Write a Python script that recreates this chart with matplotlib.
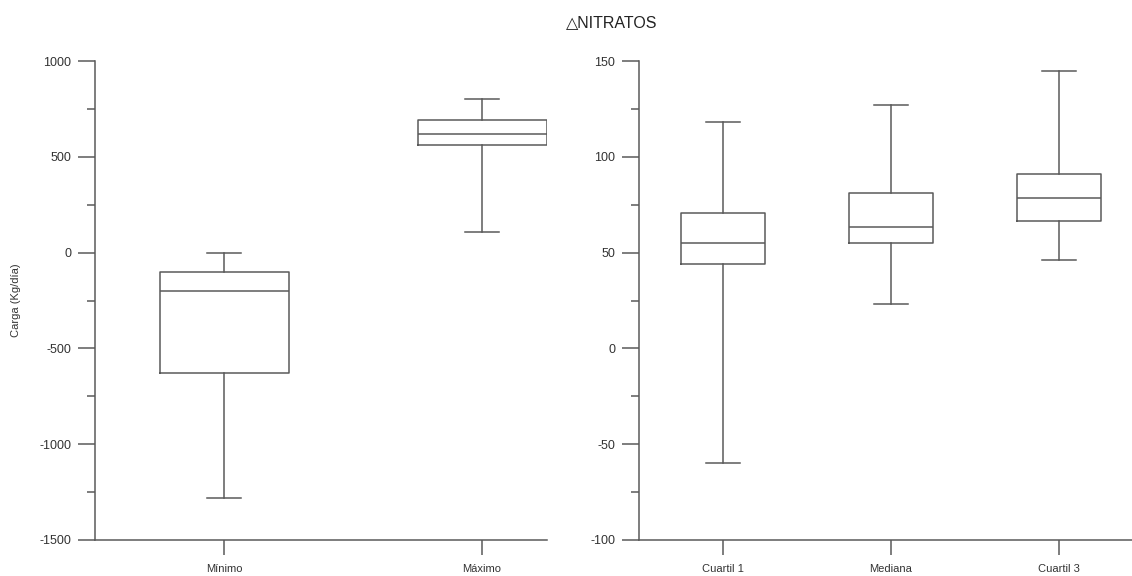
import matplotlib
matplotlib.use("Agg")
import matplotlib.pyplot as plt
from matplotlib.ticker import MultipleLocator

# ---- data ----
left_labels = ["Mínimo", "Máximo"]
left_whislo = [-1280, 105]
left_q1 = [-630, 560]
left_med = [-200, 620]
left_q3 = [-100, 690]
left_whishi = [0, 800]

right_labels = ["Cuartil 1", "Mediana", "Cuartil 3"]
right_whislo = [-60, 23, 46]
right_q1 = [44, 55, 66.5]
right_med = [55, 63.5, 78.5]
right_q3 = [70.5, 81, 91]
right_whishi = [118, 127, 145]

title = "\u25b3NITRATOS"
ylabel = "Carga (Kg/día)"

plt.rcParams['font.family'] = ['Liberation Sans', 'DejaVu Sans']
plt.rcParams['axes.unicode_minus'] = False
LC = "#5a5a5a"
TC = "#333333"

W, H = 1132, 576
fig = plt.figure(figsize=(W / 100, H / 100), dpi=100)


def stats(labels, lo, q1, med, q3, hi):
    return [dict(label=l, whislo=a, q1=b, med=c, q3=d, whishi=e, fliers=[])
            for l, a, b, c, d, e in zip(labels, lo, q1, med, q3, hi)]


def style(ax, major, minor, ylim):
    for s in ["top", "right"]:
        ax.spines[s].set_visible(False)
    for s in ["left", "bottom"]:
        ax.spines[s].set_color(LC)
        ax.spines[s].set_linewidth(1.1)
    ax.set_ylim(*ylim)
    ax.yaxis.set_major_locator(MultipleLocator(major))
    ax.yaxis.set_minor_locator(MultipleLocator(minor))
    ax.tick_params(axis="y", which="major", length=12, width=1.1, color=LC,
                   labelsize=9, labelcolor=TC, pad=5)
    ax.tick_params(axis="y", which="minor", length=6, width=1.1, color=LC)
    ax.tick_params(axis="x", which="major", length=11, width=1.1, color=LC,
                   labelsize=8, labelcolor=TC, pad=6)
    ax.tick_params(axis="x", which="minor", bottom=False)


lp = dict(color=LC, linewidth=1.1)
props = dict(boxprops=lp, whiskerprops=lp, capprops=lp, medianprops=lp,
             showfliers=False, patch_artist=False)

# left panel
ax1 = fig.add_axes([95 / W, 36 / H, 451.5 / W, 479 / H])
n1 = len(left_labels)
ax1.bxp(stats(left_labels, left_whislo, left_q1, left_med, left_q3, left_whishi),
        positions=list(range(1, n1 + 1)), widths=0.5,
        capwidths=[0.13] * n1, **props)
ax1.set_xlim(0.5, 2.25)
style(ax1, 500, 250, (-1500, 1000))
ax1.set_ylabel(ylabel, fontsize=8, color=TC)
ax1.yaxis.set_label_coords(-0.165, 0.5)

# right panel
ax2 = fig.add_axes([639 / W, 36 / H, 504 / W, 479 / H])
n2 = len(right_labels)
ax2.bxp(stats(right_labels, right_whislo, right_q1, right_med, right_q3, right_whishi),
        positions=list(range(1, n2 + 1)), widths=0.5,
        capwidths=[0.2] * n2, **props)
ax2.set_xlim(0.5, 3.5)
style(ax2, 50, 25, (-100, 150))

fig.text(612 / W, 1 - 23 / H, title, ha="center", va="center",
         fontsize=11.5, color="#222222")

fig.savefig("out.png", dpi=100, facecolor="white")
